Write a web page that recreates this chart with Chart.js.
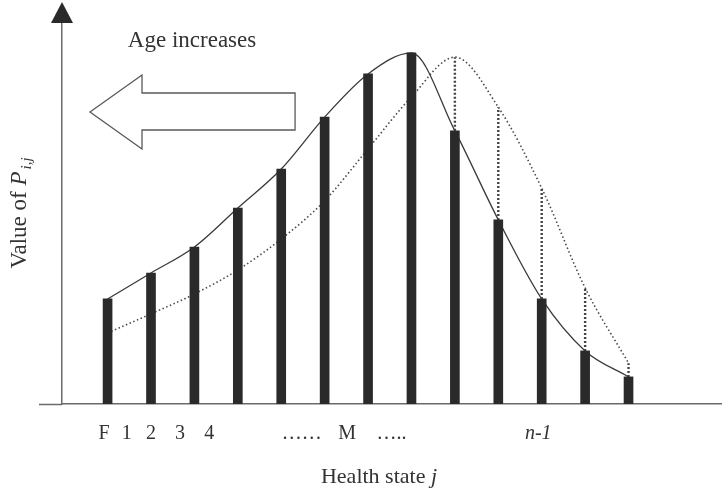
<!DOCTYPE html>
<html>
<head>
<meta charset="utf-8">
<script src="https://cdn.jsdelivr.net/npm/chart.js@4/dist/chart.umd.min.js"></script>
<style>
  html, body { margin: 0; padding: 0; background: #ffffff; }
  #wrap { width: 726px; height: 493px; }
</style>
</head>
<body>
<div id="wrap"><canvas id="c" width="726" height="493"></canvas></div>
<script>
// Health states (bar positions along the x axis)
const stateIndex = [0, 1, 2, 3, 4, 5, 6, 7, 8, 9, 10, 11, 12];
// Current P(i,j) values (bars, solid curve)
const barValues = [27.5, 34.3, 41.1, 51.3, 61.5, 75.1, 86.4, 91.9, 71.5, 48.2, 27.5, 13.9, 7.1];
// Previous-age distribution (dotted curve)
const dottedValues = [18.6, 23.6, 28.8, 35.1, 43.2, 53.2, 66.8, 80.4, 90.8, 77.7, 56.5, 30.4, 10.7];
// States with dotted drop lines from the dotted curve to the bar top
const droppedStates = [8, 9, 10, 11, 12];
// Axis tick labels and their positions (in state units)
const tickLabels = ['F', '1', '2', '3', '4', '\u2026\u2026', 'M', '\u2026..', 'n-1'];
const tickPositions = [-0.08, 0.44, 1.0, 1.67, 2.34, 4.47, 5.52, 6.54, 9.92];

const SERIF = "'Liberation Serif', 'DejaVu Serif', serif";
const TEXT = '#333333';
const AXIS = '#6a6a6a';

const barData = stateIndex.map((x, i) => ({ x: x, y: barValues[i] }));
const solidData = stateIndex.map((x, i) => ({ x: x, y: barValues[i] }));
const dottedData = stateIndex.map((x, i) => ({ x: x, y: dottedValues[i] }));
const dropData = [];
droppedStates.forEach(s => {
  dropData.push({ x: s, y: barValues[s] });
  dropData.push({ x: s, y: dottedValues[s] });
  dropData.push({ x: s, y: null });
});

const decor = {
  id: 'decor',
  afterDraw(chart) {
    const ctx = chart.ctx;
    const xs = chart.scales.x, ys = chart.scales.y;
    const a = chart.chartArea;
    ctx.save();
    // x-axis extension to the left of the y axis
    ctx.strokeStyle = AXIS; ctx.lineWidth = 1.5;
    ctx.beginPath();
    ctx.moveTo(a.left - 23, a.bottom + 0.5);
    ctx.lineTo(a.left, a.bottom + 0.5);
    ctx.stroke();
    // arrowhead on top of the y axis
    ctx.fillStyle = '#2a2a2a';
    ctx.beginPath();
    ctx.moveTo(a.left, a.top - 20);
    ctx.lineTo(a.left - 11, a.top + 1);
    ctx.lineTo(a.left + 11, a.top + 1);
    ctx.closePath();
    ctx.fill();

    // hollow "Age increases" arrow (state units / value units)
    const arrow = [[-0.405, 76.44], [0.793, 86.13], [0.793, 81.41], [4.319, 81.41],
                   [4.319, 71.73], [0.793, 71.73], [0.793, 66.75]];
    ctx.strokeStyle = '#5a5a5a'; ctx.lineWidth = 1.3; ctx.lineJoin = 'miter';
    ctx.beginPath();
    arrow.forEach((p, i) => {
      const px = xs.getPixelForValue(p[0]), py = ys.getPixelForValue(p[1]);
      if (i === 0) ctx.moveTo(px, py); else ctx.lineTo(px, py);
    });
    ctx.closePath();
    ctx.stroke();

    // "Age increases"
    ctx.fillStyle = TEXT;
    ctx.font = '23px ' + SERIF;
    ctx.textAlign = 'center'; ctx.textBaseline = 'alphabetic';
    ctx.fillText('Age increases', xs.getPixelForValue(1.945), ys.getPixelForValue(93.46));

    // x title: Health state j
    const part1 = 'Health state ';
    ctx.font = '22px ' + SERIF;
    const w1 = ctx.measureText(part1).width;
    ctx.font = 'italic 22px ' + SERIF;
    const w2 = ctx.measureText('j').width;
    let startX = 379 - (w1 + w2) / 2;
    ctx.textAlign = 'left';
    ctx.font = '22px ' + SERIF;
    ctx.fillText(part1, startX, 483);
    ctx.font = 'italic 22px ' + SERIF;
    ctx.fillText('j', startX + w1, 483);

    // y title: Value of P_{i,j}
    ctx.translate(26, (a.top + a.bottom) / 2);
    ctx.rotate(-Math.PI / 2);
    ctx.font = '23px ' + SERIF;
    const t1 = 'Value of ';
    const v1 = ctx.measureText(t1).width;
    ctx.font = 'italic 23px ' + SERIF;
    const v2 = ctx.measureText('P').width;
    ctx.font = 'italic 15px ' + SERIF;
    const v3 = ctx.measureText('i,j').width;
    let sx = -(v1 + v2 + v3 + 2) / 2;
    ctx.font = '23px ' + SERIF;
    ctx.fillText(t1, sx, 0);
    ctx.font = 'italic 23px ' + SERIF;
    ctx.fillText('P', sx + v1, 0);
    ctx.font = 'italic 15px ' + SERIF;
    ctx.fillText('i,j', sx + v1 + v2 + 2, 5);
    ctx.restore();
  }
};

new Chart(document.getElementById('c'), {
  type: 'bar',
  data: {
    datasets: [
      {
        type: 'bar', data: barData, order: 0,
        backgroundColor: '#2a2a2a', borderWidth: 0, barThickness: 9
      },
      {
        type: 'line', data: solidData, order: 2,
        borderColor: '#3a3a3a', borderWidth: 1.3, pointRadius: 0,
        cubicInterpolationMode: 'monotone', fill: false
      },
      {
        type: 'line', data: dottedData, order: 3,
        borderColor: '#4a4a4a', borderWidth: 1.6, borderDash: [1.5, 2.5], pointRadius: 0,
        cubicInterpolationMode: 'monotone', fill: false
      },
      {
        type: 'line', data: dropData, order: 1,
        borderColor: '#444444', borderWidth: 2.4, borderDash: [2, 2], pointRadius: 0,
        tension: 0, spanGaps: false, fill: false
      }
    ]
  },
  options: {
    responsive: false,
    devicePixelRatio: 1,
    animation: false,
    events: [],
    layout: { padding: { left: 62, right: 5, top: 22, bottom: 29 } },
    plugins: { legend: { display: false }, tooltip: { enabled: false } },
    scales: {
      x: {
        type: 'linear', min: -1.05, max: 14.13, offset: false,
        grid: { display: false, offset: false },
        border: { display: true, color: AXIS, width: 1.5 },
        afterBuildTicks: (scale) => { scale.ticks = tickPositions.map(v => ({ value: v })); },
        afterFit: (scale) => { scale.height = 60; },
        ticks: {
          autoSkip: false, maxRotation: 0, minRotation: 0, padding: 10, color: TEXT,
          callback: (value, index) => tickLabels[index],
          font: (c) => ({ family: SERIF, size: 20,
            style: (tickLabels[c.index] === 'n-1') ? 'italic' : 'normal' })
        }
      },
      y: {
        type: 'linear', min: 0, max: 100,
        grid: { display: false },
        border: { display: true, color: AXIS, width: 1.5 },
        afterFit: (scale) => { scale.width = 0; },
        ticks: { display: false }
      }
    }
  },
  plugins: [decor]
});
</script>
</body>
</html>
